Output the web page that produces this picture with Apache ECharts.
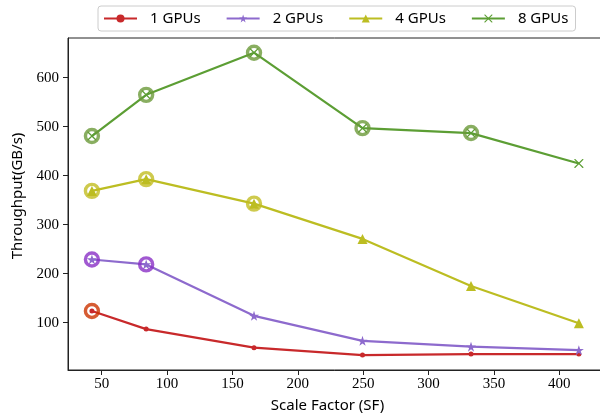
<!DOCTYPE html>
<html>
<head>
<meta charset="utf-8">
<script src="https://cdn.jsdelivr.net/npm/echarts@6/dist/echarts.min.js"></script>
<style>
html,body{margin:0;padding:0;background:#fff;}
#chart{width:600px;height:419px;}
</style>
</head>
<body>
<div id="chart"></div>
<script>
// ---- data ----
var scaleFactors = [42.5, 84, 166.5, 249.5, 332.5, 415];
var seriesNames = ['1 GPUs', '2 GPUs', '4 GPUs', '8 GPUs'];
var gpu1 = [124, 87, 49, 34, 36, 36];
var gpu2 = [229, 219, 114, 63, 51, 44];
var gpu4 = [369, 393, 343, 271, 175, 99];
var gpu8 = [481, 565, 651, 497, 487, 425];
// indices of highlighted (circled) points per series
var ring1 = [0];
var ring2 = [0, 1];
var ring4 = [0, 1, 2];
var ring8 = [0, 1, 2, 3, 4];
var xTicks = [50, 100, 150, 200, 250, 300, 350, 400];
var yTicks = [100, 200, 300, 400, 500, 600];

// ---- styles ----
var lineColors = ['#c8292b', '#8d6acd', '#bcbd22', '#5c9e34'];
var ringColors = ['#cc3300', '#8a2fc6', '#c2bd22', '#6b9a3a'];
var STAR = 'path://M10,0 L12.35,6.9 L19.5,6.9 L13.6,11.2 L15.9,18.1 L10,13.8 L4.1,18.1 L6.4,11.2 L0.5,6.9 L7.65,6.9 Z';
var CROSS = 'path://M0,0 L2,0 L10,8 L18,0 L20,0 L20,2 L12,10 L20,18 L20,20 L18,20 L10,12 L2,20 L0,20 L0,18 L8,10 L0,2 Z';
var symbols = ['circle', STAR, 'triangle', CROSS];
var symbolSizes = [5, 10, 10, 9];

var allData = [gpu1, gpu2, gpu4, gpu8];
var allRings = [ring1, ring2, ring4, ring8];

function pairs(ys) {
  return ys.map(function (y, i) { return [scaleFactors[i], y]; });
}

var series = [];
allData.forEach(function (ys, k) {
  series.push({
    name: seriesNames[k],
    type: 'line',
    data: pairs(ys),
    symbol: symbols[k],
    symbolSize: symbolSizes[k],
    showAllSymbol: true,
    lineStyle: { color: lineColors[k], width: 2.2 },
    itemStyle: { color: lineColors[k] },
    emphasis: { disabled: true },
    z: 2
  });
});
allRings.forEach(function (idx, k) {
  series.push({
    name: 'ring' + k,
    type: 'scatter',
    data: idx.map(function (i) { return [scaleFactors[i], allData[k][i]]; }),
    symbol: 'circle',
    symbolSize: 13,
    itemStyle: { color: 'rgba(255,255,255,0)', borderColor: ringColors[k], borderWidth: 3.4 },
    emphasis: { disabled: true },
    z: 3
  });
});

var SERIF = '"Liberation Serif", "Times New Roman", serif';
var SANS = '"Noto Sans", sans-serif';

var chart = echarts.init(document.getElementById('chart'), null, { renderer: 'canvas' });
chart.setOption({
  animation: false,
  backgroundColor: '#fff',
  grid: {
    left: 68, top: 38, bottom: 49, right: -5,
    outerBoundsMode: 'none',
    containLabel: false,
    show: true, borderColor: '#222', borderWidth: 1, backgroundColor: 'rgba(0,0,0,0)'
  },
  legend: {
    data: seriesNames,
    left: 98, top: 6,
    orient: 'horizontal',
    itemWidth: 33, itemHeight: 10, itemGap: 25,
    padding: [5, 7, 5, 5],
    borderColor: '#cccccc', borderWidth: 1, borderRadius: 3,
    backgroundColor: '#fff',
    textStyle: { fontFamily: SANS, fontSize: 15, color: '#000', padding: [0, 0, 0, 8] }
  },
  xAxis: {
    type: 'value',
    min: 24.2, max: 435,
    name: 'Scale Factor (SF)',
    nameLocation: 'middle',
    nameGap: 28,
    nameTextStyle: { fontFamily: SANS, fontSize: 15, color: '#000', padding: [0, 18, 0, 0] },
    axisLine: { show: true, lineStyle: { color: '#222', width: 1 } },
    axisTick: { show: true, inside: false, length: 5, customValues: xTicks, lineStyle: { color: '#222' } },
    axisLabel: { customValues: xTicks, margin: 7, fontFamily: SERIF, fontSize: 15, color: '#000' },
    splitLine: { show: false }
  },
  yAxis: {
    type: 'value',
    min: 3.5, max: 681,
    name: 'Throughput(GB/s)',
    nameLocation: 'middle',
    nameGap: 41,
    nameTextStyle: { fontFamily: SANS, fontSize: 15, color: '#000', padding: [0, 0, 0, 16] },
    axisLine: { show: true, lineStyle: { color: '#222', width: 1 } },
    axisTick: { show: true, inside: false, length: 5, customValues: yTicks, lineStyle: { color: '#222' } },
    axisLabel: { customValues: yTicks, margin: 9, fontFamily: SERIF, fontSize: 15, color: '#000' },
    splitLine: { show: false }
  },
  series: series
});
</script>
</body>
</html>
